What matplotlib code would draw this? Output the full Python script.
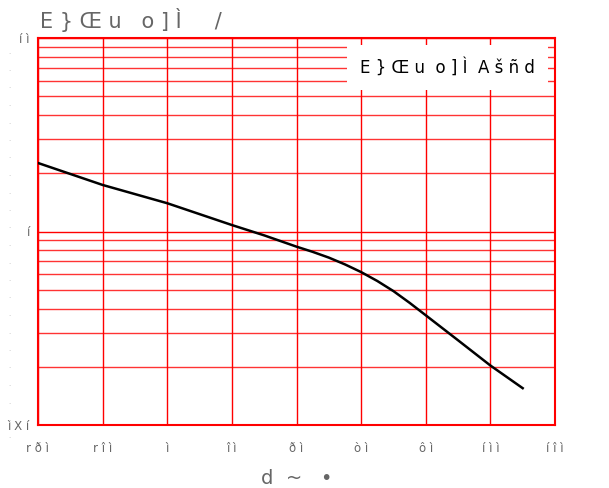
import numpy as np
import matplotlib.pyplot as plt
from matplotlib.ticker import FixedLocator, NullFormatter

# curve (x in tick units, y on log scale)
temp = [-40, -20, 0, 20, 30, 40, 45, 50, 55, 60, 65, 70, 75, 80, 90, 100, 110]
ratio = [2.26, 1.74, 1.40, 1.08, 0.955, 0.835, 0.785, 0.733, 0.676, 0.617,
         0.555, 0.492, 0.428, 0.369, 0.274, 0.203, 0.155]

xticks = [-40, -20, 0, 20, 40, 60, 80, 100, 120]
xlabels = ['r ð ì', 'r î ì', 'ì', 'î ì', 'ð ì', 'ò ì', 'ô ì', 'í ì ì', 'í î ì']
yticks = [0.1, 1, 10]
ylabels = ['ì X í', 'í', 'í ì']

title = 'E } Œ u   o ] Ì     /'
series_name = 'E } Œ u  o ] Ì  A š ñ d'
xlabel = 'd  ~   •'

gray = '#666666'

fig = plt.figure(figsize=(6.09, 4.88), dpi=100)
ax = fig.add_axes([38/609, 1-425/488, (555-38)/609, (425-38)/488])

ax.set_yscale('log')
ax.set_xlim(-40, 120)
ax.set_ylim(0.1, 10)

line, = ax.plot(temp, ratio, color='black', lw=1.8, label=series_name, zorder=3)

ax.set_xticks(xticks)
ax.set_xticklabels(xlabels)
ax.set_yticks(yticks)
ax.set_yticklabels(ylabels)
ax.yaxis.set_minor_locator(FixedLocator(
    [m * d for d in (0.1, 1) for m in range(2, 10)]))
ax.yaxis.set_minor_formatter(NullFormatter())

ax.grid(True, which='major', color='red', lw=1)
ax.grid(True, which='minor', axis='y', color='red', lw=1, alpha=0.8)
ax.tick_params(which='both', length=0, labelsize=8.5, labelcolor=gray)
ax.tick_params(axis='x', pad=12)
ax.tick_params(axis='y', pad=6)
for s in ax.spines.values():
    s.set_color('red')
    s.set_linewidth(1.5)

ax.set_xlabel(xlabel, fontsize=14, color=gray, labelpad=10)
fig.text(40/609, 1-20/488, title, fontsize=15, color=gray, va='center', ha='left')

leg = ax.legend(loc='upper right', handlelength=0, handletextpad=0,
                fontsize=12, frameon=True, fancybox=False,
                borderaxespad=0.4, borderpad=0.8)
leg.get_frame().set_edgecolor('none')
leg.get_frame().set_facecolor('white')
leg.get_frame().set_alpha(1)
for h in leg.legend_handles:
    h.set_visible(False)

# faint column of dots down the left edge
fig.text(9/609, 0.5, '\n'.join(['.'] * 23), fontsize=5, color='#bbbbbb',
         ha='center', va='center', linespacing=3.3)

fig.savefig('out.png', dpi=100)
